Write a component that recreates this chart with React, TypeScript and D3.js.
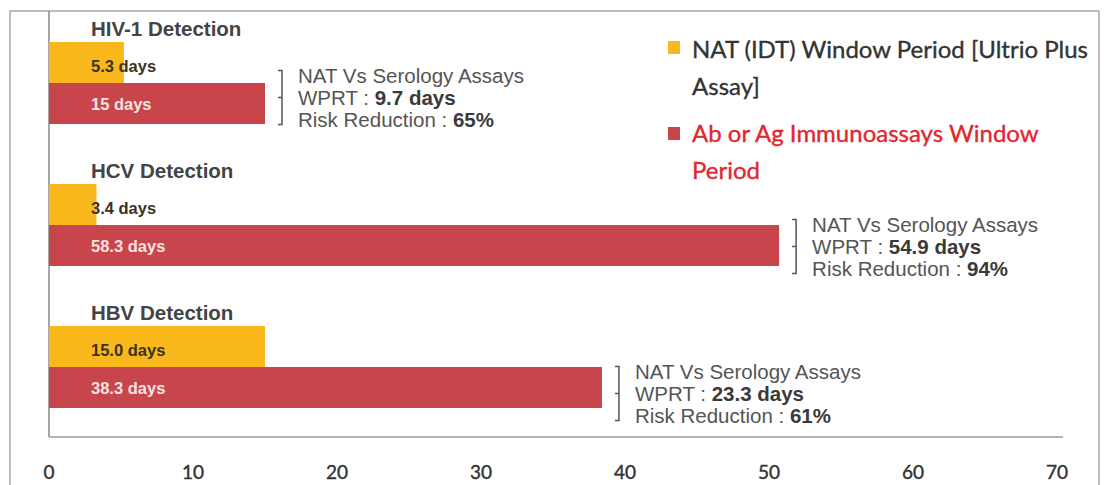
import React from 'react';
import * as d3 from 'd3';

const groups = ['HIV-1 Detection', 'HCV Detection', 'HBV Detection'];
// bar lengths as drawn (days)
const natDays = [5.2, 3.3, 15.0];
const serologyDays = [15.0, 50.7, 38.4];
// labels printed on the bars
const natLabels = ['5.3 days', '3.4 days', '15.0 days'];
const serologyLabels = ['15 days', '58.3 days', '38.3 days'];
const wprtLabels = ['9.7 days', '54.9 days', '23.3 days'];
const riskLabels = ['65%', '94%', '61%'];
const xTicks = [0, 10, 20, 30, 40, 50, 60, 70];
const legendNat = ['NAT (IDT) Window Period [Ultrio Plus', 'Assay]'];
const legendSero = ['Ab or Ag Immunoassays Window', 'Period'];

const W = 1105;
const H = 485;
const YELLOW = '#F9B81B';
const RED = '#C8464B';
const SANS = '"Liberation Sans", Arial, sans-serif';
const LEGEND_FONT = 'Lato, "Open Sans", sans-serif';

// per-group vertical nudge of the annotation block (relative to red bar centre)
const annDy = [-6, 1, 6];

export default function App() {
  const x = d3.scaleLinear().domain([0, 70]).range([49, 1057]);
  const y = d3.scaleBand<string>().domain(groups).range([42, 42 + 3 * 142]);
  const barH = 41;

  return (
    <svg width={W} height={H} style={{ position: 'absolute', left: 0, top: 0, background: '#fff' }}>
      {/* outer frame */}
      <rect x={10} y={11} width={1089} height={H} fill="none" stroke="#a8a8a8" strokeWidth={1.5} />
      {/* plot frame */}
      <line x1={49} x2={49} y1={11} y2={437} stroke="#8a8a8a" strokeWidth={1.5} />
      <line x1={49} x2={1063} y1={437} y2={437} stroke="#9a9a9a" strokeWidth={1.5} />

      {groups.map((g, i) => {
        const top = y(g)!;
        const redC = top + barH + barH / 2;
        const redEnd = x(serologyDays[i]);
        const bx = redEnd + 17;
        const c = redC + annDy[i];
        const tx = bx + 16;
        return (
          <g key={g}>
            <text x={91} y={top - 6} fontFamily={SANS} fontWeight="bold" fontSize={20.5} fill="#444">{g}</text>
            <rect x={x(0)} y={top} width={x(natDays[i]) - x(0)} height={barH} fill={YELLOW} />
            <rect x={x(0)} y={top + barH} width={redEnd - x(0)} height={barH} fill={RED} />
            <text x={91} y={top + barH / 2 + 4} dy="0.35em" fontFamily={SANS} fontWeight="bold" fontSize={16.5} fill="#3b3222">{natLabels[i]}</text>
            <text x={91} y={redC + 1} dy="0.35em" fontFamily={SANS} fontWeight="bold" fontSize={16.5} fill="#f6e2e2">{serologyLabels[i]}</text>
            <path d={`M${bx - 4},${c - 27}H${bx}V${c + 27}H${bx - 4}M${bx},${c}H${bx - 4}`} fill="none" stroke="#555" strokeWidth={1.5} />
            <g fontFamily={SANS} fontSize={20.5} fill="#555">
              <text x={tx} y={c - 22} dy="0.35em">NAT Vs Serology Assays</text>
              <text x={tx} y={c} dy="0.35em">WPRT : <tspan fontWeight="bold" fill="#3a3a3a">{wprtLabels[i]}</tspan></text>
              <text x={tx} y={c + 22} dy="0.35em">Risk Reduction : <tspan fontWeight="bold" fill="#3a3a3a">{riskLabels[i]}</tspan></text>
            </g>
          </g>
        );
      })}

      {/* x axis tick labels */}
      {xTicks.map(t => (
        <text key={t} x={x(t)} y={479} textAnchor="middle" fontFamily={LEGEND_FONT} fontSize={19} fill="#333" stroke="#333" strokeWidth={0.4}>{t}</text>
      ))}

      {/* legend */}
      <g stroke="currentColor" strokeWidth={0.35}>
        <rect x={668} y={41} width={12} height={13} fill={YELLOW} stroke="none" />
        {legendNat.map((l, i) => (
          <text key={l} x={692} y={58 + i * 37} fontFamily={LEGEND_FONT} fontSize={24} fill="#333" color="#333">{l}</text>
        ))}
        <rect x={668} y={127} width={12} height={13} fill={RED} stroke="none" />
        {legendSero.map((l, i) => (
          <text key={l} x={692} y={142 + i * 37} fontFamily={LEGEND_FONT} fontSize={24} fill="#E3252E" color="#E3252E">{l}</text>
        ))}
      </g>
    </svg>
  );
}
